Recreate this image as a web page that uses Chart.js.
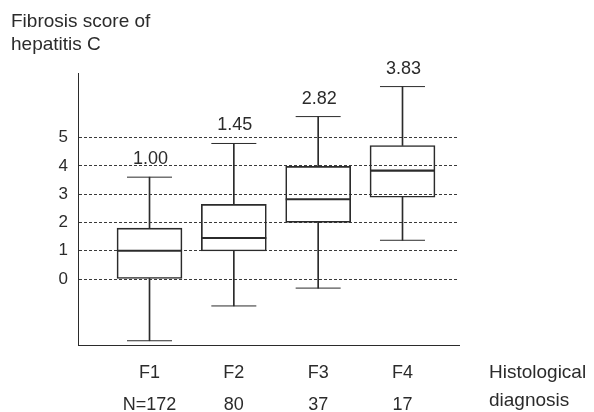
<!DOCTYPE html>
<html lang="en">
<head>
<meta charset="UTF-8">
<title>Fibrosis score of hepatitis C</title>
<style>
  * { margin: 0; padding: 0; }
  body { background: #fff; width: 594px; height: 412px; overflow: hidden; }
  canvas { display: block; }
</style>
</head>
<body>
<canvas id="chart" width="594" height="412"></canvas>
<script src="https://cdn.jsdelivr.net/npm/chart.js@4.4.0/dist/chart.umd.min.js"></script>
<script>
// ── Data ─────────────────────────────────────────────────────────────────────
const categories = ["F1", "F2", "F3", "F4"];
const counts = ["N=172", "80", "37", "17"];
const whiskerLow = [-2.18, -0.95, -0.32, 1.37];
const q1 = [0.02, 0.99, 2.0, 2.89];
const median = [1.0, 1.45, 2.82, 3.83];
const q3 = [1.8, 2.64, 3.98, 4.72];
const whiskerHigh = [3.6, 4.79, 5.74, 6.8];
const yTicks = [0, 1, 2, 3, 4, 5];

const INK = "#2b2b2b";
const FONT = "'Liberation Sans', Arial, sans-serif";

// ── Helpers to turn the arrays into {x, y} points ────────────────────────────
const xs = categories.map((_, i) => i + 1);
const pts = (arr) => arr.map((v, i) => ({ x: xs[i], y: v }));
const spans = (lo, hi) => lo.map((v, i) => ({ x: xs[i], y: [v, hi[i]] }));

// ── Extra captions: median values and axis titles ────────────────────────────
const captions = {
  id: "captions",
  afterDraw(chart) {
    const { ctx, scales: { x, y } } = chart;
    ctx.save();
    ctx.fillStyle = INK;
    ctx.font = `18px ${FONT}`;
    ctx.textAlign = "center";
    ctx.textBaseline = "alphabetic";
    median.forEach((m, i) => {
      ctx.fillText(m.toFixed(2), x.getPixelForValue(xs[i]) + 1, y.getPixelForValue(whiskerHigh[i]) - 13);
    });
    ctx.font = `19px ${FONT}`;
    ctx.textAlign = "left";
    ctx.textBaseline = "middle";
    ctx.fillText("Fibrosis score of", 11, 22);
    ctx.fillText("hepatitis C", 11, 45);
    ctx.fillText("Histological", 489, 373);
    ctx.fillText("diagnosis", 489, 401);
    ctx.restore();
  },
};

const barBase = { type: "bar", grouped: false, borderSkipped: false };

new Chart(document.getElementById("chart"), {
  type: "bar",
  data: {
    datasets: [
      { ...barBase, label: "box", data: spans(q1, q3), backgroundColor: "rgba(0,0,0,0)",
        borderColor: INK, borderWidth: 1, barThickness: 65, order: 3 },
      { ...barBase, label: "lower whisker", data: spans(whiskerLow, q1), backgroundColor: INK,
        borderWidth: 0, barThickness: 1, order: 4 },
      { ...barBase, label: "upper whisker", data: spans(q3, whiskerHigh), backgroundColor: INK,
        borderWidth: 0, barThickness: 1, order: 4 },
      { type: "scatter", label: "caps", data: pts(whiskerLow).concat(pts(whiskerHigh)),
        pointStyle: "line", pointRadius: 22.5, pointBorderWidth: 1,
        pointBorderColor: INK, borderColor: INK, order: 2 },
      { type: "scatter", label: "median", data: pts(median),
        pointStyle: "line", pointRadius: 32.5, pointBorderWidth: 2.2,
        pointBorderColor: INK, borderColor: INK, order: 1 },
    ],
  },
  options: {
    responsive: false,
    animation: false,
    events: [],
    layout: { padding: { top: 73, right: 135, left: 0, bottom: 0 } },
    plugins: { legend: { display: false }, tooltip: { enabled: false } },
    scales: {
      x: {
        type: "linear",
        offset: false,
        min: 0.152,
        max: 4.67,
        afterBuildTicks: (s) => { s.ticks = xs.map((v) => ({ value: v })); },
        afterFit: (s) => { s.height = 67; },
        grid: { display: false, drawTicks: false, offset: false },
        border: { display: true, color: INK, width: 1 },
        ticks: {
          autoSkip: false,
          maxRotation: 0,
          padding: 12,
          color: INK,
          font: { family: FONT, size: 18, lineHeight: 1.78 },
          callback: (v, i) => [categories[i], counts[i]],
        },
      },
      y: {
        min: -2.33,
        max: 7.28,
        afterBuildTicks: (s) => { s.ticks = yTicks.map((v) => ({ value: v })); },
        afterFit: (s) => { s.width = 78; },
        grid: { color: "#3a3a3a", lineWidth: 1, drawTicks: false },
        border: { display: true, color: INK, width: 1, dash: [3, 2] },
        ticks: { padding: 10, color: INK, font: { family: FONT, size: 17 } },
      },
    },
  },
  plugins: [captions],
});
</script>
</body>
</html>
